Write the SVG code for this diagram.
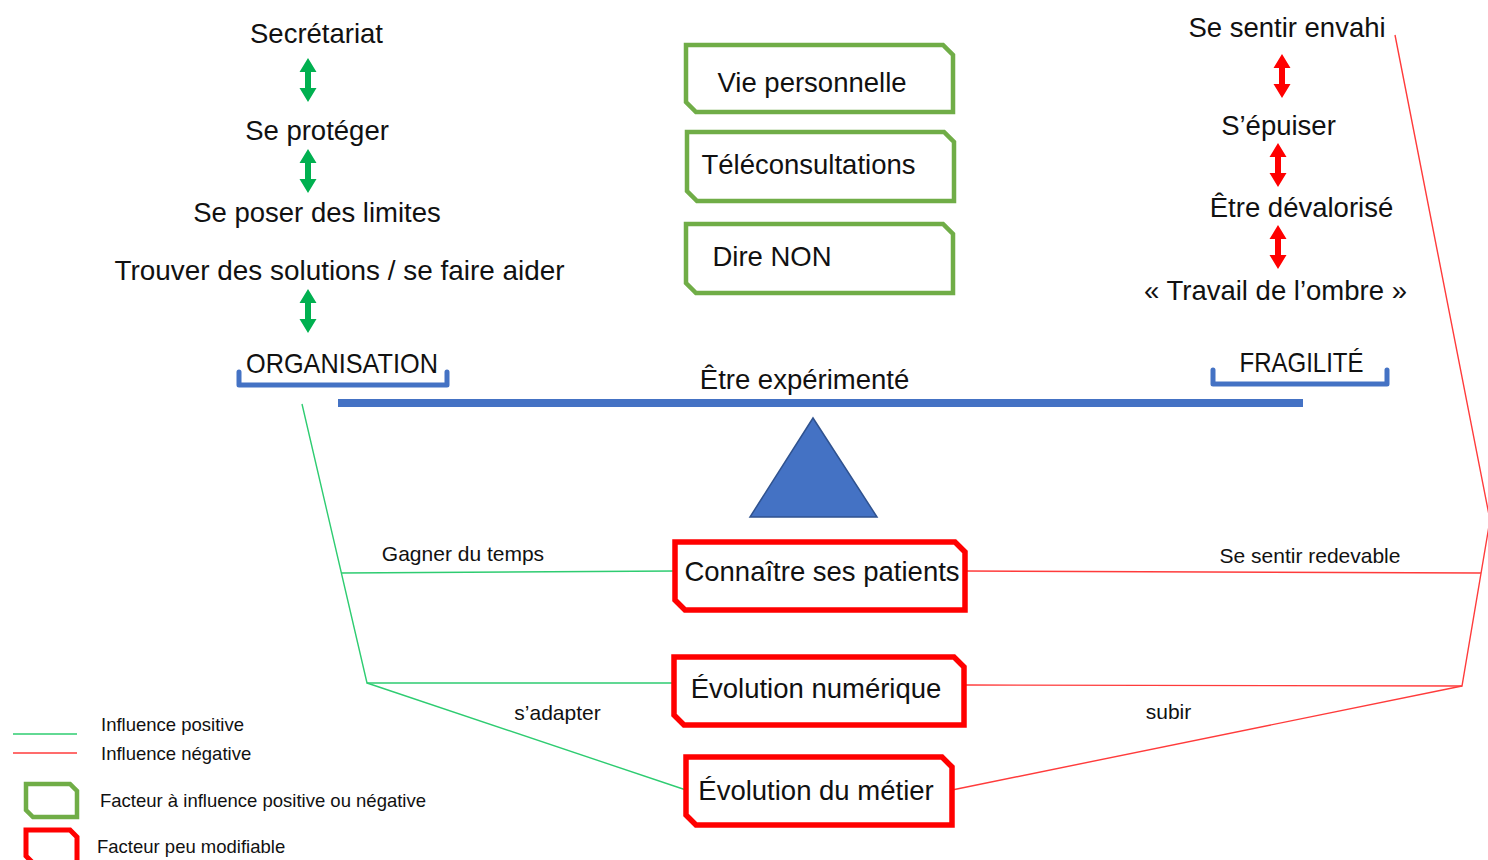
<svg xmlns="http://www.w3.org/2000/svg" width="1488" height="860" viewBox="0 0 1488 860">
<style>
text{font-family:"Liberation Sans",Arial,sans-serif;fill:#111;}
.big{font-size:27.5px;text-anchor:middle;}
.lbl{font-size:21px;text-anchor:middle;}
.leg{font-size:18.5px;}
.gbox{fill:#fff;stroke:#70AD47;stroke-width:4.5;}
.rbox{fill:#fff;stroke:#FF0000;stroke-width:5.5;}
.pos{fill:none;stroke:#2ECC71;stroke-width:1.4;}
.neg{fill:none;stroke:#FF3B3B;stroke-width:1.4;}
.brk{fill:none;stroke:#4472C4;stroke-width:5;stroke-linejoin:round;stroke-linecap:round;}
</style>
<defs>
<path id="dbl" d="M0,-22 L8.5,-8 L3,-8 L3,8 L8.5,8 L0,22 L-8.5,8 L-3,8 L-3,-8 L-8.5,-8 Z"/>
</defs>
<rect width="1488" height="860" fill="#fff"/>

<g id="connectors">
<polyline class="pos" points="302,404 367,683 675,683"/>
<line class="pos" x1="341" y1="573" x2="675" y2="571"/>
<line class="pos" x1="367" y1="683" x2="686" y2="790"/>
<polyline class="neg" points="1395,35 1490,520 1462,686 966,685"/>
<line class="neg" x1="966" y1="571" x2="1481" y2="573"/>
<line class="neg" x1="952" y1="790" x2="1462" y2="686"/>
</g>

<g id="left-chain">
<text class="big" x="316.5" y="43">Secrétariat</text>
<use href="#dbl" x="308" y="80" fill="#00B050"/>
<text class="big" x="317" y="140">Se protéger</text>
<use href="#dbl" x="308" y="171" fill="#00B050"/>
<text class="big" x="317" y="222">Se poser des limites</text>
<text class="big" x="339.5" y="280" textLength="450" lengthAdjust="spacingAndGlyphs">Trouver des solutions / se faire aider</text>
<use href="#dbl" x="308" y="311" fill="#00B050"/>
</g>

<g id="organisation">
<text class="big" x="342" y="373" textLength="192" lengthAdjust="spacingAndGlyphs">ORGANISATION</text>
<polyline class="brk" points="239,372 239,385 447,385 447,372"/>
</g>

<g id="right-chain">
<text class="big" x="1287" y="37">Se sentir envahi</text>
<use href="#dbl" x="1282" y="76" fill="#FF0000"/>
<text class="big" x="1278.5" y="135">S’épuiser</text>
<use href="#dbl" x="1278" y="165" fill="#FF0000"/>
<text class="big" x="1301.5" y="217">Être dévalorisé</text>
<use href="#dbl" x="1278" y="247" fill="#FF0000"/>
<text class="big" x="1275.5" y="300">« Travail de l’ombre »</text>
</g>

<g id="fragilite">
<text class="big" x="1301.5" y="372" textLength="124" lengthAdjust="spacingAndGlyphs">FRAGILITÉ</text>
<polyline class="brk" points="1213,370 1213,384 1387,384 1387,370"/>
</g>

<g id="balance">
<text class="big" x="804.5" y="389">Être expérimenté</text>
<rect x="338" y="399" width="965" height="8" fill="#4472C4"/>
<polygon points="750,517 877,517 813,418" fill="#4472C4" stroke="#2F528F" stroke-width="1.5"/>
</g>

<g id="vie-personnelle">
<path class="gbox" d="M686,45 H943 L953,55 V112 H696 L686,102 Z"/>
<text class="big" x="812" y="92">Vie personnelle</text>
</g>
<g id="teleconsultations">
<path class="gbox" d="M687,132 H944 L954,142 V201 H697 L687,191 Z"/>
<text class="big" x="808.5" y="174">Téléconsultations</text>
</g>
<g id="dire-non">
<path class="gbox" d="M686,224 H943 L953,234 V293 H696 L686,283 Z"/>
<text class="big" x="772" y="266">Dire NON</text>
</g>

<g id="connaitre">
<path class="rbox" d="M675,542 H955 L965,552 V610 H685 L675,600 Z"/>
<text class="big" x="822" y="581">Connaître ses patients</text>
</g>
<g id="evolution-numerique">
<path class="rbox" d="M674,657 H954 L964,667 V725 H684 L674,715 Z"/>
<text class="big" x="816" y="698">Évolution numérique</text>
</g>
<g id="evolution-metier">
<path class="rbox" d="M686,757 H942 L952,767 V825 H696 L686,815 Z"/>
<text class="big" x="816" y="800">Évolution du métier</text>
</g>

<g id="labels">
<text class="lbl" x="463" y="561">Gagner du temps</text>
<text class="lbl" x="1310" y="563">Se sentir redevable</text>
<text class="lbl" x="557.5" y="720">s’adapter</text>
<text class="lbl" x="1168.5" y="719">subir</text>
</g>

<g id="legend">
<line class="pos" x1="13" y1="734" x2="77" y2="734"/>
<text class="leg" x="101" y="731">Influence positive</text>
<line class="neg" x1="13" y1="753" x2="77" y2="753"/>
<text class="leg" x="101" y="760">Influence négative</text>
<path d="M26,784 H70 L77,791 V817 H33 L26,810 Z" fill="#fff" stroke="#70AD47" stroke-width="4.5"/>
<text class="leg" x="100" y="807">Facteur à influence positive ou négative</text>
<path d="M26,830 H70 L77,837 V863 H33 L26,856 Z" fill="#fff" stroke="#FF0000" stroke-width="5"/>
<text class="leg" x="97" y="853">Facteur peu modifiable</text>
</g>
</svg>
